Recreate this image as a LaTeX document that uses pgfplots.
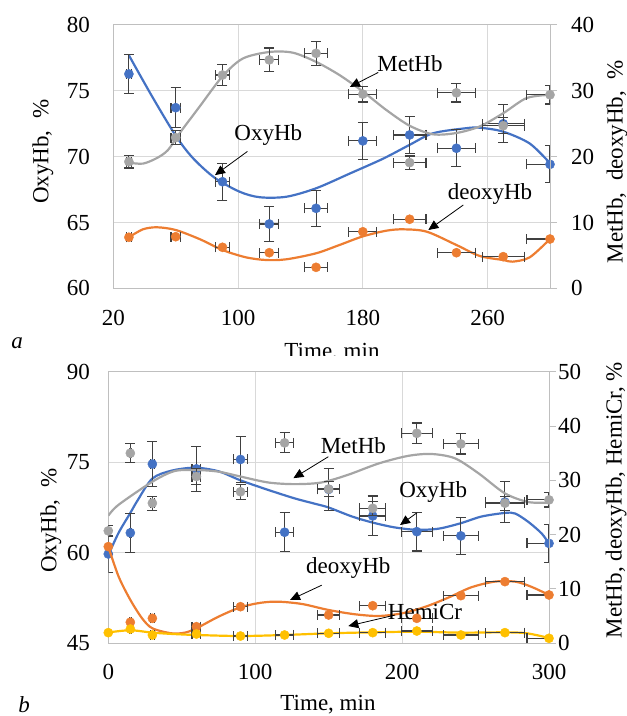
\documentclass[border=0pt]{standalone}
\usepackage{fontspec}
\setmainfont{Liberation Serif}
\usepackage{pgfplots}
\usepackage{pgfplotstable}
\pgfplotsset{compat=1.18}
\usetikzlibrary{arrows.meta}
\definecolor{cOxy}{HTML}{4472C4}
\definecolor{cMet}{HTML}{A5A5A5}
\definecolor{cDeo}{HTML}{ED7D31}
\definecolor{cHem}{HTML}{FFC000}
\definecolor{cErr}{HTML}{404040}
\definecolor{cGrid}{HTML}{D9D9D9}
\definecolor{cAxis}{HTML}{BFBFBF}

% ---------- panel a ----------
\pgfplotstableread{
x y ex ey
30 76.28 1.5 1.5
60 73.72 3 1.5
90 68.1 4.5 1.4
120 64.89 6 1.3
150 66.08 7.5 1.37
180 71.2 9 1.43
210 71.65 10.5 1.4
240 70.64 12 1.4
270 72.5 13.5 1.43
300 69.42 15 1.4
}\topOxy
\pgfplotstableread{
x y ex ey
30 19.24 1.5 0.96
60 22.9 3 1.1
90 32.4 4.5 1.6
120 34.7 6 1.8
150 35.7 7.5 1.8
180 29.5 9 1.2
210 19.1 10.5 1.0
240 29.7 12 1.4
270 24.7 13.5 1.2
300 29.4 15 1.4
}\topMet
\pgfplotstableread{
x y ex
30 7.76 1.5
60 7.85 3
90 6.24 4.5
120 5.42 6
150 3.2 7.5
180 8.6 9
210 10.5 10.5
240 5.42 12
270 4.82 13.5
300 7.5 15
}\topDeo

% ---------- panel b ----------
\pgfplotstableread{
x y ex ey
0 59.8 0 3.0
15 63.3 0.75 3.2
30 74.7 1.5 3.7
60 73.9 3 3.7
90 75.46 4.5 3.8
120 63.4 6 3.2
150 70.5 7.5 3.5
180 66.1 9 3.3
210 63.5 10.5 3.2
240 62.8 12 3.1
270 68.4 13.5 3.4
300 61.56 15 3.1
}\botOxy
\pgfplotstableread{
x y ex ey
0 20.7 0 1.0
15 35.0 0.75 1.75
30 25.8 1.5 1.3
60 30.7 3 1.5
90 27.9 4.5 1.4
120 36.9 6 1.85
150 28.4 7.5 1.4
180 24.85 9 1.25
210 38.66 10.5 1.9
240 36.7 12 1.85
270 25.8 13.5 1.3
300 26.4 15 1.3
}\botMet
\pgfplotstableread{
x y ex
0 17.8 0
15 3.87 0.75
30 4.6 1.5
60 3.06 3
90 6.74 4.5
150 5.21 7.5
180 6.92 9
210 4.6 10.5
240 8.77 12
270 11.35 13.5
300 8.9 15
}\botDeo
\pgfplotstableread{
x y ex
0 1.96 0
15 2.63 0.75
30 1.53 1.5
60 1.71 3
90 1.34 4.5
120 1.53 6
150 1.84 7.5
180 1.96 9
210 2.26 10.5
240 1.53 12
270 1.96 13.5
300 0.92 15
}\botHem

\pgfplotsset{
  base/.style={scale only axis, anchor=south west,
    /pgf/number format/assume math mode=true},
  ptsxy/.style={color=#1, only marks, mark=*, mark size=4.6bp,
    mark options={draw=#1, fill=#1},
    error bars/.cd, x dir=both, x explicit, y dir=both, y explicit,
    error bar style={line width=1.1bp, color=cErr},
    error mark options={rotate=90, mark size=5bp, line width=1.1bp, color=cErr}},
  ptsx/.style={color=#1, only marks, mark=*, mark size=4.6bp,
    mark options={draw=#1, fill=#1},
    error bars/.cd, x dir=both, x explicit,
    error bar style={line width=1.1bp, color=cErr},
    error mark options={rotate=90, mark size=5bp, line width=1.1bp, color=cErr}},
  trend/.style={smooth, no marks, line width=2.2bp, color=#1},
  leftax/.style={base, axis line style={-, line width=1bp, cAxis},
    xmajorgrids, ymajorgrids, major grid style={line width=1bp, cGrid},
    tick style={draw=none},
    yticklabel style={anchor=east, inner sep=0pt}},
  rightax/.style={base, axis y line*=right, axis x line=none,
    axis line style={-, line width=1bp, cAxis},
    ytick style={draw=cAxis, line width=1bp}, tick align=outside,
    major tick length=7bp,
    yticklabel style={anchor=west, inner sep=0pt}},
}
\tikzset{ann/.style={line width=0.8bp, black, -{Triangle[length=10bp,width=9bp]}}}

\begin{document}
\fontsize{23bp}{27bp}\selectfont
\begin{tikzpicture}
\useasboundingbox (0,0) rectangle (627bp,716bp);

% ================= panel a =================
\begin{axis}[leftax, at={(113.3bp,427.6bp)}, width=436.7bp, height=263.4bp,
  xmin=20, xmax=300, ymin=60, ymax=80,
  xtick={20,100,180,260}, ytick={60,65,70,75,80},
  yticklabel style={xshift=-23.3bp},
  xticklabel style={anchor=north, inner sep=0pt, yshift=-22bp}]
\addplot[trend=cOxy] coordinates {(30,77.7) (45,74.55) (60,71.6) (71,69.9) (85,68.4) (101,67.34) (114,66.92) (131,66.96) (150,67.6) (172,68.74) (193,69.85) (210,70.9) (225,71.78) (246,72.16) (255,72.2) (270,71.9) (287,71.0) (300,69.5)};
\addplot[ptsxy=cOxy] table[x=x, y=y, x error=ex, y error=ey] {\topOxy};
\node at (axis cs:119.4,71.65) {OxyHb};
\draw[ann] (axis cs:106,70.4) -- (axis cs:85.2,68.6);
\end{axis}

\begin{axis}[rightax, at={(113.3bp,427.6bp)}, width=436.7bp, height=263.4bp,
  xmin=20, xmax=300, ymin=0, ymax=40, ytick={0,10,20,30,40},
  yticklabel style={xshift=14bp}]
\addplot[trend=cMet] coordinates {(30,19.1) (39,18.95) (48,19.8) (55,21.0) (62,23.4) (75,27.5) (90,32.2) (103,34.9) (120,35.9) (135,35.8) (150,34.4) (165,32.4) (180,29.9) (195,27.1) (210,24.7) (225,23.4) (240,23.6) (255,24.6) (270,26.6) (285,28.9) (300,29.4)};
\addplot[ptsxy=cMet] table[x=x, y=y, x error=ex, y error=ey] {\topMet};
\addplot[trend=cDeo] coordinates {(30,7.76) (39,8.97) (48,9.28) (60,8.87) (75.6,7.46) (90,5.83) (105,4.72) (118,4.31) (131,4.42) (150,5.33) (165,6.59) (180,7.9) (195,8.76) (206,8.97) (221,8.61) (240,6.59) (255,4.92) (270,4.31) (276,4.06) (287,4.72) (300,7.5)};
\addplot[ptsx=cDeo] table[x=x, y=y, x error=ex] {\topDeo};
\node at (axis cs:210.2,34.2) {MetHb};
\draw[ann] (axis cs:189.9,32.8) -- (axis cs:171.7,30.6);
\node at (axis cs:261.5,14.4) {deoxyHb};
\draw[ann] (axis cs:244.4,12.66) -- (axis cs:222,8.87);
\end{axis}

\node[rotate=90] at (43bp,564.3bp) {OxyHb,\ \ \%};
\node[rotate=90] at (617bp,554.3bp) {MetHb,\ \ deoxyHb,\ \ \%};
\begin{scope}
\clip (0,360bp) rectangle (627bp,716bp);
\node[anchor=base] at (332bp,357.5bp) {Time, min};
\end{scope}
\node[anchor=base] at (17bp,367.5bp) {\textit{a}};

% ================= panel b =================
\begin{axis}[leftax, at={(108.3bp,72.7bp)}, width=440.7bp, height=271.6bp,
  xmin=0, xmax=300, ymin=45, ymax=90,
  xtick={0,100,200,300}, ytick={45,60,75,90},
  yticklabel style={xshift=-18.3bp},
  xticklabel style={anchor=north, inner sep=0pt, yshift=-20.7bp}]
\addplot[trend=cOxy] coordinates {(0,59.6) (7,63.3) (15,66.6) (20,68.7) (30,72.3) (43,73.6) (59,74.1) (75,73.5) (90,72.0) (109,70.4) (127,69.0) (141,68.1) (150,67.5) (166,66.0) (180,65.0) (195,64.2) (210,63.8) (225,64.0) (240,64.9) (254,66.0) (270,66.6) (277,66.5) (286,65.1) (295,63.2) (300,61.5)};
\addplot[ptsxy=cOxy] table[x=x, y=y, x error=ex, y error=ey] {\botOxy};
\node at (axis cs:221.2,70.1) {OxyHb};
\draw[ann] (axis cs:210,66.6) -- (axis cs:198.6,64.6);
\end{axis}

\begin{axis}[rightax, at={(108.3bp,72.7bp)}, width=440.7bp, height=271.6bp,
  xmin=0, xmax=300, ymin=0, ymax=50, ytick={0,10,20,30,40,50},
  yticklabel style={xshift=2bp}]
\addplot[trend=cMet] coordinates {(0,23.5) (7,25.5) (30,29.75) (45,31.7) (60,31.9) (75,31.6) (90,30.7) (109,29.6) (127,29.3) (145,29.6) (163,31.0) (184,33.1) (204,34.5) (220,34.85) (236,34.05) (252,31.3) (270,27.6) (286,26.0) (300,25.9)};
\addplot[ptsxy=cMet] table[x=x, y=y, x error=ex, y error=ey] {\botMet};
\addplot[trend=cDeo] coordinates {(0,17.8) (7,12.3) (15,8.0) (23,4.6) (30,2.76) (43,1.84) (52,1.96) (60,2.76) (75,4.9) (90,6.63) (104,7.47) (116,7.66) (132,7.23) (150,6.13) (168,5.34) (184,5.03) (200,5.52) (216,6.74) (232,8.47) (247,10.3) (263,11.35) (277,11.35) (288,10.4) (300,8.9)};
\addplot[ptsx=cDeo] table[x=x, y=y, x error=ex] {\botDeo};
\addplot[trend=cHem] coordinates {(0,2.0) (15,2.4) (30,1.96) (45,1.7) (60,1.53) (90,1.34) (120,1.53) (150,1.84) (180,2.02) (210,2.14) (240,1.96) (270,2.02) (285,1.84) (300,0.98)};
\addplot[ptsx=cHem] table[x=x, y=y, x error=ex] {\botHem};
\node at (axis cs:166.8,36.4) {MetHb};
\draw[ann] (axis cs:149.8,34.35) -- (axis cs:126,30.4);
\node at (axis cs:163.4,13.8) {deoxyHb};
\draw[ann] (axis cs:145.3,10.7) -- (axis cs:123.7,7.97);
\node at (axis cs:215.6,5.8) {HemiCr};
\draw[ann] (axis cs:195.2,5.2) -- (axis cs:163.4,3.18);
\end{axis}

\node[rotate=90] at (51bp,195.2bp) {OxyHb,\ \ \%};
\node[rotate=90] at (616bp,216bp) {MetHb, deoxyHb, HemiCr, \%};
\node[anchor=base] at (328bp,5.4bp) {Time, min};
\node[anchor=base] at (24bp,4bp) {\textit{b}};
\end{tikzpicture}
\end{document}
